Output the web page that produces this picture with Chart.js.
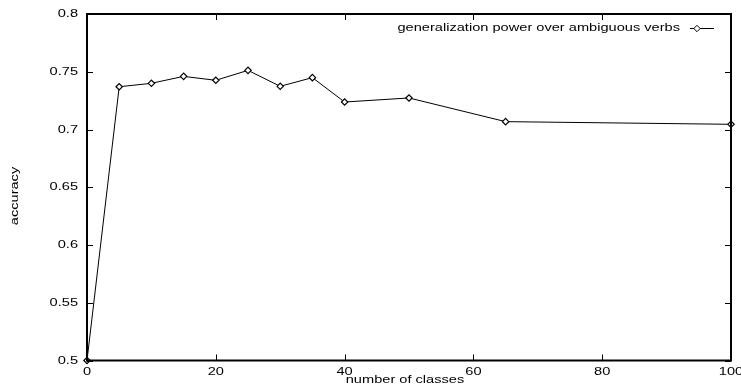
<!DOCTYPE html>
<html>
<head>
<meta charset="utf-8">
<script src="https://cdn.jsdelivr.net/npm/chart.js@4/dist/chart.umd.min.js"></script>
<style>
html,body{margin:0;padding:0;background:#fff;}
#c{display:block;}
</style>
</head>
<body>
<canvas id="c" width="741" height="385"></canvas>
<script>
const classes = [0, 5, 10, 15, 20, 25, 30, 35, 40, 50, 65, 100];
const accuracy = [0.5, 0.737, 0.740, 0.746, 0.7426, 0.7512, 0.7374, 0.7449, 0.7238, 0.7273, 0.7068, 0.7045];
const xTicks = [0, 20, 40, 60, 80, 100];
const yTicks = [0.5, 0.55, 0.6, 0.65, 0.7, 0.75, 0.8];
const yTickLabels = ['0.5', '0.55', '0.6', '0.65', '0.7', '0.75', '0.8'];
const seriesLabel = 'generalization power over ambiguous verbs';
const xTitle = 'number of classes';
const yTitle = 'accuracy';

const FONT = '11.5px "Liberation Sans", Arial, sans-serif';
const SX = 1.27;

function stretchedText(ctx, text, x, y, align) {
  ctx.save();
  ctx.font = FONT;
  ctx.textBaseline = 'middle';
  const w = ctx.measureText(text).width * SX;
  let left = x;
  if (align === 'right') left = x - w;
  else if (align === 'center') left = x - w / 2;
  ctx.translate(left, y);
  ctx.scale(SX, 1);
  ctx.textAlign = 'left';
  ctx.fillStyle = '#000';
  ctx.fillText(text, 0, 0);
  ctx.restore();
  return w;
}

function diamond(ctx, x, y, r) {
  ctx.save();
  ctx.fillStyle = '#fff'; ctx.strokeStyle = '#000'; ctx.lineWidth = 1;
  ctx.beginPath();
  ctx.moveTo(x, y - r); ctx.lineTo(x + r, y);
  ctx.lineTo(x, y + r); ctx.lineTo(x - r, y); ctx.closePath();
  ctx.fill(); ctx.stroke();
  ctx.restore();
}

const framePlugin = {
  id: 'frame',
  afterDatasetsDraw(chart) {
    const ctx = chart.ctx;
    const a = chart.chartArea;
    const xs = chart.scales.x, ys = chart.scales.y;
    ctx.save();
    ctx.strokeStyle = '#000';
    ctx.lineWidth = 1;
    const tl = 6;
    ctx.beginPath();
    xTicks.forEach(v => {
      const px = Math.round(xs.getPixelForValue(v)) + 0.5;
      ctx.moveTo(px, a.bottom); ctx.lineTo(px, a.bottom - tl);
      ctx.moveTo(px, a.top); ctx.lineTo(px, a.top + tl);
    });
    yTicks.forEach(v => {
      const py = Math.round(ys.getPixelForValue(v)) + 0.5;
      ctx.moveTo(a.left, py); ctx.lineTo(a.left + tl, py);
      ctx.moveTo(a.right, py); ctx.lineTo(a.right - tl, py);
    });
    ctx.stroke();
    ctx.lineWidth = 2;
    ctx.strokeRect(a.left, a.top, a.right - a.left, a.bottom - a.top);
    ctx.restore();

    xTicks.forEach(v => {
      stretchedText(ctx, String(v), xs.getPixelForValue(v), a.bottom + 11, 'center');
    });
    yTicks.forEach((v, i) => {
      stretchedText(ctx, yTickLabels[i], a.left - 9, ys.getPixelForValue(v), 'right');
    });
    stretchedText(ctx, xTitle, (a.left + a.right) / 2 - 4, a.bottom + 19.5, 'center');
    ctx.save();
    ctx.translate(15, 196);
    ctx.rotate(-Math.PI / 2);
    stretchedText(ctx, yTitle, 0, 0, 'center');
    ctx.restore();

    const ly = 28;
    stretchedText(ctx, seriesLabel, 680, ly, 'right');
    ctx.save();
    ctx.strokeStyle = '#000';
    ctx.lineWidth = 1;
    ctx.beginPath();
    ctx.moveTo(690, ly + 0.5); ctx.lineTo(714, ly + 0.5);
    ctx.stroke();
    ctx.restore();
    diamond(ctx, 697, ly + 0.5, chart.data.datasets[0].pointRadius);
  }
};

new Chart(document.getElementById('c'), {
  type: 'scatter',
  data: {
    datasets: [{
      label: seriesLabel,
      data: classes.map((x, i) => ({ x: x, y: accuracy[i] })),
      showLine: true,
      borderColor: '#000',
      borderWidth: 1,
      pointStyle: 'rectRot',
      pointRadius: 3.2,
      pointBorderWidth: 1.2,
      pointBackgroundColor: '#fff',
      pointBorderColor: '#000',
      clip: false,
      tension: 0
    }]
  },
  options: {
    responsive: false,
    animation: false,
    devicePixelRatio: 1,
    layout: { padding: { left: 0, right: 10, top: 14, bottom: 0 } },
    plugins: { legend: { display: false }, tooltip: { enabled: false } },
    scales: {
      x: {
        type: 'linear', min: 0, max: 100,
        ticks: { display: false, stepSize: 20 },
        grid: { display: false },
        border: { display: false },
        afterFit(s) { s.height = 24.5; }
      },
      y: {
        type: 'linear', min: 0.5, max: 0.8,
        ticks: { display: false, stepSize: 0.05 },
        grid: { display: false },
        border: { display: false },
        afterFit(s) { s.width = 87; }
      }
    }
  },
  plugins: [framePlugin]
});
</script>
</body>
</html>
